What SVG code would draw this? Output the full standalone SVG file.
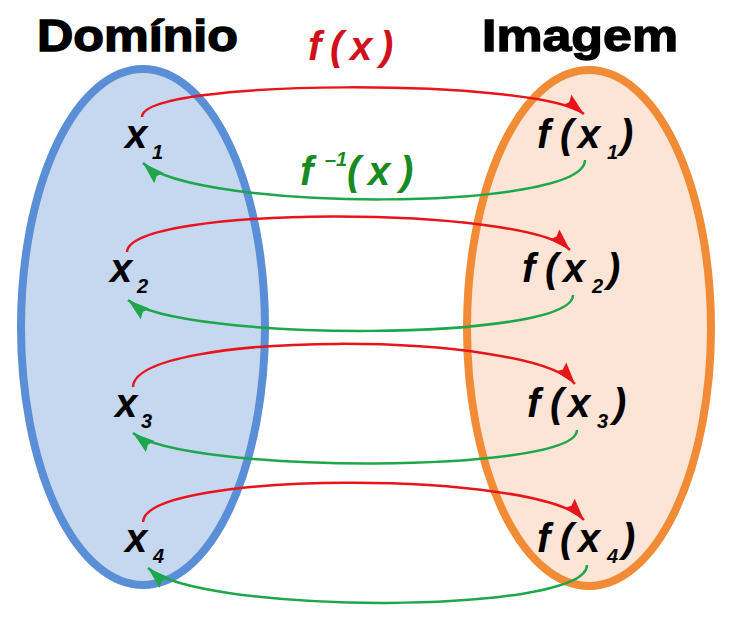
<svg xmlns="http://www.w3.org/2000/svg" width="737" height="635" viewBox="0 0 737 635">
<style>
.title{font-family:"Liberation Sans",Arial,sans-serif;font-weight:bold;font-size:45px;fill:#000;stroke:#000;stroke-width:1.4}
.lbl{font-family:"Liberation Sans",Arial,sans-serif;font-weight:bold;font-style:italic;font-size:40px;fill:#000}
.sub{font-size:20px}
.fx{fill:#D0101A}
.finv{fill:#178A22}
.red{fill:none;stroke:#E8141C;stroke-width:2.5}
.green{fill:none;stroke:#1EA64A;stroke-width:2.5}
</style>
<defs>
<marker id="ar" markerUnits="userSpaceOnUse" markerWidth="24" markerHeight="16" refX="22" refY="8" orient="auto"><path d="M0,1 L22,8 L0,15 L3,8 Z" fill="#E8141C"/></marker>
<marker id="ag" markerUnits="userSpaceOnUse" markerWidth="24" markerHeight="16" refX="22" refY="8" orient="auto"><path d="M0,1 L22,8 L0,15 L3,8 Z" fill="#1EA64A"/></marker>
</defs>
<rect width="737" height="635" fill="#fff"/>
<g id="dominio">
<ellipse cx="143" cy="327" rx="122" ry="258" fill="#C6D8EF" stroke="#5A8ED6" stroke-width="8"/>
<text class="title" x="37" y="51" textLength="201" lengthAdjust="spacingAndGlyphs">Domínio</text>
</g>
<g id="imagem">
<ellipse cx="589" cy="328" rx="122" ry="258" fill="#FCE5D6" stroke="#F28B36" stroke-width="8"/>
<text class="title" x="482" y="51" textLength="196" lengthAdjust="spacingAndGlyphs">Imagem</text>
</g>
<g id="label-fx"><text class="lbl fx" y="60"><tspan x="308">f</tspan><tspan x="330">(</tspan><tspan x="350">x</tspan><tspan x="380">)</tspan></text></g>
<g id="label-finv"><text class="lbl finv" y="185"><tspan x="300">f</tspan><tspan x="325" y="166" class="sub">–1</tspan><tspan x="347" y="185">(</tspan><tspan x="368">x</tspan><tspan x="400">)</tspan></text></g>
<g id="x1"><text class="lbl" y="148"><tspan x="125">x</tspan><tspan x="152" y="159" class="sub">1</tspan></text></g>
<g id="x2"><text class="lbl" y="282"><tspan x="110">x</tspan><tspan x="137" y="293" class="sub">2</tspan></text></g>
<g id="x3"><text class="lbl" y="417"><tspan x="115">x</tspan><tspan x="141" y="428" class="sub">3</tspan></text></g>
<g id="x4"><text class="lbl" y="552"><tspan x="125">x</tspan><tspan x="153" y="563" class="sub">4</tspan></text></g>
<g id="fx1"><text class="lbl" y="148"><tspan x="537">f</tspan><tspan x="560">(</tspan><tspan x="578">x</tspan><tspan x="607" y="159" class="sub">1</tspan><tspan x="620" y="148">)</tspan></text></g>
<g id="fx2"><text class="lbl" y="282"><tspan x="522">f</tspan><tspan x="545">(</tspan><tspan x="563">x</tspan><tspan x="592" y="293" class="sub">2</tspan><tspan x="607" y="282">)</tspan></text></g>
<g id="fx3"><text class="lbl" y="417"><tspan x="527">f</tspan><tspan x="550">(</tspan><tspan x="568">x</tspan><tspan x="597" y="428" class="sub">3</tspan><tspan x="613" y="417">)</tspan></text></g>
<g id="fx4"><text class="lbl" y="552"><tspan x="537">f</tspan><tspan x="560">(</tspan><tspan x="578">x</tspan><tspan x="607" y="563" class="sub">4</tspan><tspan x="622" y="552">)</tspan></text></g>
<g id="connectors">
<path class="red" marker-end="url(#ar)" d="M142,117 C142,78 540,78 584,114"/>
<path class="green" marker-end="url(#ag)" d="M585,160 C585,212 195,212 143,163"/>
<path class="red" marker-end="url(#ar)" d="M127,252 C130,205 525,205 570,250"/>
<path class="green" marker-end="url(#ag)" d="M573,295 C573,342 180,342 128,300"/>
<path class="red" marker-end="url(#ar)" d="M133,387 C135,330 530,330 575,384"/>
<path class="green" marker-end="url(#ag)" d="M577,430 C577,474 185,474 133,433"/>
<path class="red" marker-end="url(#ar)" d="M143,522 C145,470 540,470 584,520"/>
<path class="green" marker-end="url(#ag)" d="M587,565 C587,615 200,615 148,568"/>
</g>
</svg>
